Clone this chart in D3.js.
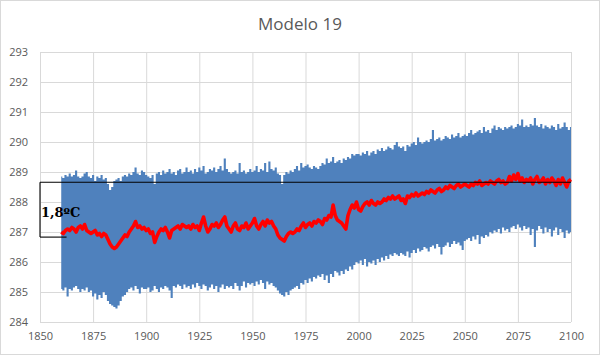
<!DOCTYPE html>
<html>
<head>
<meta charset="utf-8">
<script src="https://cdn.jsdelivr.net/npm/d3@7"></script>
<style>
  html, body { margin: 0; padding: 0; background: #fff; }
  svg { display: block; }
</style>
</head>
<body>
<svg id="chart" width="600" height="355"></svg>
<script>
// ---------------- DATA ----------------
const title = "Modelo 19";
const startYear = 1860;
const xTicks = [1850, 1875, 1900, 1925, 1950, 1975, 2000, 2025, 2050, 2075, 2100];
const yTicks = [284, 285, 286, 287, 288, 289, 290, 291, 292, 293];
const boxLabel = "1,8ºC";
const boxTop = 288.66;
const boxBottom = 286.83;
const boxBottomEnd = 1862.5;

// annual maxima of the monthly series (upper edge of the blue band), 1860..2100
const upper = [
  288.85, 288.8, 288.9, 288.85, 288.95, 288.85, 288.9, 289.05, 288.85, 288.8,
  288.85, 288.95, 289.0, 288.85, 288.8, 288.9, 288.7, 288.85, 288.8, 288.9,
  288.75, 288.8, 288.6, 288.4, 288.5, 288.7, 288.75, 288.8, 288.7, 288.85,
  288.9, 288.85, 288.95, 288.9, 289.0, 289.15, 288.95, 288.9, 289.05, 289.0,
  288.9, 288.85, 288.8, 288.9, 288.6, 288.95, 289.0, 288.9, 289.05, 288.95,
  289.0, 289.1, 288.95, 289.0, 288.9, 289.05, 289.1, 288.95, 289.0, 289.15,
  289.0, 289.05, 288.95, 289.1, 289.0, 289.15, 289.05, 289.2, 288.95, 289.0,
  289.1, 289.05, 289.15, 289.0, 289.1, 289.2, 289.05, 289.45, 289.1, 289.0,
  288.95, 289.0, 289.05, 288.95, 289.3, 289.0, 289.05, 288.95, 289.0, 289.1,
  289.0, 289.05, 289.2, 289.0, 289.1, 289.05, 289.3, 289.0, 289.35, 289.1,
  289.05, 289.15, 288.95, 288.9, 288.6, 288.9, 289.0, 288.95, 289.05, 289.0,
  289.1, 289.2, 289.05, 289.3, 289.15, 289.2, 289.25, 289.15, 289.1, 289.2,
  289.15, 289.1, 289.2, 289.3, 289.25, 289.45, 289.3, 289.35, 289.5, 289.3,
  289.35, 289.4, 289.3, 289.45, 289.4, 289.5, 289.45, 289.6, 289.55, 289.6,
  289.6, 289.55, 289.65, 289.6, 289.7, 289.55, 289.65, 289.7, 289.6, 289.75,
  289.7, 289.8, 289.7, 289.75, 289.85, 289.8, 289.75, 289.9, 290.0, 289.85,
  289.8, 289.85, 289.7, 289.9, 289.85, 289.95, 290.0, 289.9, 290.15, 290.0,
  289.95, 290.0, 290.05, 290.0, 290.1, 290.4, 290.05, 290.1, 290.15, 290.05,
  290.1, 290.2, 290.15, 290.1, 290.25, 290.15, 290.2, 290.3, 290.15, 290.2,
  290.25, 290.2, 290.3, 290.4, 290.25, 290.3, 290.35, 290.4, 290.3, 290.5,
  290.35, 290.4, 290.3, 290.45, 290.55, 290.4, 290.5, 290.45, 290.4, 290.5,
  290.45, 290.5, 290.55, 290.45, 290.5, 290.6, 290.55, 290.75, 290.5, 290.55,
  290.5, 290.6, 290.55, 290.8, 290.55, 290.5, 290.6, 290.45, 290.55, 290.5,
  290.45, 290.55, 290.5, 290.4, 290.6, 290.45, 290.5, 290.65, 290.5, 290.4,
  290.5
];

// annual minima of the monthly series (lower edge of the blue band), 1860..2100
const lower = [
  285.1, 285.05, 285.15, 284.85, 285.1, 285.05, 285.15, 285.2, 285.1, 285.0,
  285.1, 285.05, 285.15, 285.0, 285.05, 284.85, 284.95, 284.75, 284.9, 284.8,
  285.0, 284.9, 284.7, 284.6, 284.55, 284.5, 284.45, 284.55, 284.7, 284.85,
  284.9, 285.0, 285.1, 285.15, 285.05, 285.2, 285.1, 284.95, 285.15, 285.1,
  285.1, 285.15, 285.0, 285.05, 285.2, 285.1, 285.0, 285.15, 285.1, 285.2,
  285.15, 285.05, 284.8, 285.2, 285.15, 285.25, 285.2, 285.1, 285.25, 285.15,
  285.2, 285.1, 285.25, 285.15, 285.3, 285.2, 285.1, 285.25, 285.2, 285.05,
  285.15, 285.25, 285.1, 285.2, 285.0, 285.15, 285.25, 285.1, 285.2, 285.15,
  285.2, 285.1, 285.3, 285.2, 285.05, 285.2, 285.35, 285.15, 285.3, 285.25,
  285.3, 285.2, 285.35, 285.25, 285.4, 285.3, 285.1, 285.35, 285.25, 285.3,
  285.2, 285.15, 285.05, 284.95, 284.9, 284.85, 285.0, 284.9, 285.05, 285.1,
  285.15, 285.2, 285.1, 285.3, 285.25, 285.4, 285.3, 285.45, 285.35, 285.5,
  285.45, 285.55, 285.5, 285.6, 285.4, 285.55, 285.3, 285.6, 285.5, 285.7,
  285.65, 285.55, 285.7, 285.6, 285.75, 285.7, 285.85, 285.75, 285.9, 286.0,
  285.95, 286.05, 285.9, 286.1, 285.85, 286.0, 285.95, 286.05, 285.9, 286.1,
  286.0, 286.15, 286.05, 286.2, 286.1, 286.25, 286.2, 286.3, 286.25, 286.2,
  286.3, 286.25, 286.2, 286.35, 286.15, 286.3, 286.4, 286.3, 286.45, 286.35,
  286.4, 286.5, 286.45, 286.35, 286.5, 286.55, 286.45, 286.6, 286.5, 286.25,
  286.5, 286.55, 286.65, 286.5, 286.6, 286.7, 286.6, 286.65, 286.55, 286.4,
  286.7, 286.75, 286.8, 286.7, 286.85, 286.75, 286.9, 286.6, 286.85, 286.8,
  286.9, 286.85, 287.0, 286.95, 287.05, 287.0, 287.1, 286.95, 287.15, 287.05,
  287.1, 287.0, 287.15, 287.2, 287.1, 287.25, 287.15, 287.05, 287.2, 287.1,
  287.15, 286.9, 287.1, 286.5, 287.05, 287.2, 287.1, 286.95, 287.15, 287.0,
  287.1, 286.85, 287.05, 287.15, 286.9, 287.1, 287.0, 286.8, 287.05, 286.95,
  287.0
];

// annual running mean (red line), 1860..2100
const mean = [
  287.0, 286.95, 287.05, 287.1, 287.05, 287.15, 287.1, 287.0, 287.15, 287.2,
  287.1, 287.25, 287.05, 287.0, 286.95, 287.0, 287.05, 286.9, 286.95, 286.85,
  286.95, 286.9, 286.75, 286.6, 286.5, 286.45, 286.5, 286.6, 286.7, 286.8,
  286.9, 286.85, 287.0, 287.1, 287.2, 287.35, 287.15, 287.2, 287.1, 287.15,
  287.05, 287.1, 286.95, 287.0, 286.65, 286.85, 287.0, 287.1, 287.05, 287.15,
  287.0, 286.8, 287.05, 287.1, 287.15, 287.2, 287.1, 287.25, 287.2, 287.15,
  287.2, 287.1, 287.25, 287.15, 287.2, 287.05, 287.3, 287.5, 287.2, 287.0,
  287.1, 287.25, 287.2, 287.3, 287.15, 287.25, 287.4, 287.5, 287.2, 287.1,
  287.0, 287.2, 287.3, 287.1, 287.05, 287.2, 287.15, 287.3, 287.1, 287.2,
  287.3, 287.45, 287.2, 287.1, 287.25, 287.35, 287.2, 287.4, 287.3, 287.35,
  287.2, 287.1, 286.9, 286.8, 286.75, 286.7, 286.85, 286.95, 287.0, 286.95,
  287.0, 287.1, 287.05, 287.2, 287.3, 287.15, 287.25, 287.3, 287.2, 287.35,
  287.3, 287.4, 287.35, 287.25, 287.45, 287.4, 287.55, 287.5, 287.9, 287.55,
  287.4, 287.35, 287.3, 287.2, 287.1, 287.55, 287.75, 287.9, 287.8, 288.0,
  287.75, 287.7, 287.85, 287.95, 288.0, 287.9, 288.05, 287.95, 287.9, 288.0,
  287.95, 288.0, 288.1, 288.05, 288.15, 288.1, 288.2, 288.1, 288.15, 288.2,
  288.05, 288.1, 287.95, 288.2, 288.15, 288.25, 288.2, 288.3, 288.2, 288.25,
  288.3, 288.25, 288.35, 288.3, 288.4, 288.35, 288.3, 288.4, 288.45, 288.35,
  288.4, 288.5, 288.45, 288.55, 288.5, 288.45, 288.55, 288.6, 288.5, 288.55,
  288.6, 288.55, 288.5, 288.6, 288.55, 288.65, 288.6, 288.7, 288.55, 288.6,
  288.65, 288.6, 288.7, 288.65, 288.6, 288.7, 288.75, 288.65, 288.7, 288.6,
  288.65, 288.85, 288.7, 288.9, 288.75, 288.95, 288.7, 288.8, 288.65, 288.75,
  288.7, 288.8, 288.6, 288.75, 288.85, 288.65, 288.7, 288.8, 288.6, 288.75,
  288.65, 288.8, 288.7, 288.55, 288.75, 288.6, 288.8, 288.65, 288.5, 288.7,
  288.75
];

// ---------------- CHART ----------------
const W = 600, H = 355;
const plot = { left: 40, right: 571, top: 52, bottom: 322 };
const svg = d3.select("#chart");
const font = "'Open Sans', 'Liberation Sans', sans-serif";
const textColor = "#595959";
const gridColor = "#d9d9d9";

svg.append("rect").attr("x", 0.5).attr("y", 0.5).attr("width", W - 1).attr("height", H - 1)
  .attr("fill", "#fff").attr("stroke", gridColor);

const x = d3.scaleLinear().domain([xTicks[0], xTicks[xTicks.length - 1]]).range([plot.left, plot.right]);
const y = d3.scaleLinear().domain([yTicks[0], yTicks[yTicks.length - 1]]).range([plot.bottom, plot.top]);

// horizontal grid + y labels
const yAxis = svg.append("g").attr("transform", `translate(${plot.left},0)`)
  .call(d3.axisLeft(y).tickValues(yTicks).tickFormat(d3.format("d"))
    .tickSize(-(plot.right - plot.left)).tickPadding(12));
yAxis.select(".domain").remove();
yAxis.selectAll("line").attr("stroke", gridColor);
yAxis.selectAll("text").attr("fill", textColor).style("font-family", font).style("font-size", "11px");

// vertical grid + x labels
const xAxis = svg.append("g").attr("transform", `translate(0,${plot.bottom})`)
  .call(d3.axisBottom(x).tickValues(xTicks).tickFormat(d3.format("d"))
    .tickSize(-(plot.bottom - plot.top)).tickPadding(10));
xAxis.select(".domain").remove();
xAxis.selectAll("line").attr("stroke", gridColor);
xAxis.selectAll("text").attr("fill", textColor).style("font-family", font).style("font-size", "11px");

// data rows
const rows = upper.map((u, i) => ({ year: startYear + i, hi: u, lo: lower[i], m: mean[i] }));

// blue band
svg.append("path").datum(rows)
  .attr("fill", "#4F81BD")
  .attr("d", d3.area().curve(d3.curveStep)
    .x(d => x(d.year)).y0(d => y(d.lo)).y1(d => y(d.hi)));

// red mean line
svg.append("path").datum(rows)
  .attr("fill", "none").attr("stroke", "#FF0000").attr("stroke-width", 3.6)
  .attr("stroke-linejoin", "round")
  .attr("d", d3.line().x(d => x(d.year)).y(d => y(d.m)));

// bracket box
const box = svg.append("g").attr("stroke", "#000").attr("stroke-width", 1.1).attr("fill", "none");
box.append("line").attr("x1", x(xTicks[0])).attr("x2", x(xTicks[xTicks.length - 1]))
  .attr("y1", y(boxTop)).attr("y2", y(boxTop));
box.append("line").attr("x1", x(xTicks[0])).attr("x2", x(xTicks[0]))
  .attr("y1", y(boxTop)).attr("y2", y(boxBottom));
box.append("line").attr("x1", x(xTicks[0])).attr("x2", x(boxBottomEnd))
  .attr("y1", y(boxBottom)).attr("y2", y(boxBottom));

svg.append("text").attr("x", x(xTicks[0]) + 1).attr("y", y((boxTop + boxBottom) / 2) + 7)
  .attr("fill", "#000").style("font-family", "'DejaVu Serif', serif")
  .style("font-weight", "bold").style("font-size", "13px").text(boxLabel);

// title
svg.append("text").attr("x", W / 2).attr("y", 30).attr("text-anchor", "middle")
  .attr("fill", textColor).style("font-family", font).style("font-size", "17px").text(title);
</script>
</body>
</html>
